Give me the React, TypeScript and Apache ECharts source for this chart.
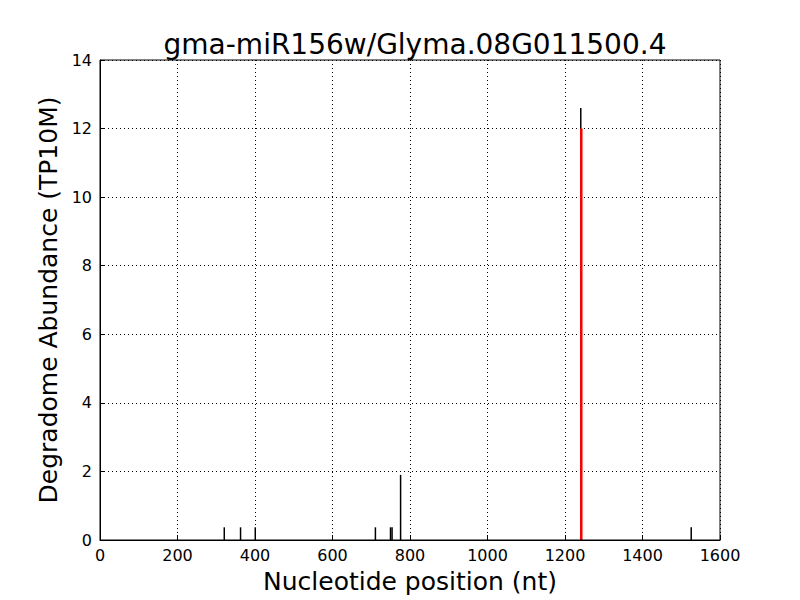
import React, { useEffect, useRef } from "react";
import * as echarts from "echarts";

const titleText = "gma-miR156w/Glyma.08G011500.4";
const xLabel = "Nucleotide position (nt)";
const yLabel = "Degradome Abundance (TP10M)";
const positions = [322, 364, 402, 712, 751, 755, 777, 1242, 1527];
const abundances = [0.37, 0.37, 0.37, 0.37, 0.37, 0.37, 1.9, 12.6, 0.37];
const targetPositions = [1242];
const targetAbundances = [12.0];

export default function App() {
  const ref = useRef<HTMLDivElement>(null);
  useEffect(() => {
    if (!ref.current) return;
    const chart = echarts.init(ref.current, null, { renderer: "svg" });
    const font = "DejaVu Sans";
    chart.setOption({
      animation: false,
      backgroundColor: "#ffffff",
      title: {
        text: titleText,
        left: 410,
        textAlign: "center",
        top: 25,
        textStyle: { fontFamily: font, fontSize: 28, fontWeight: "normal", color: "#000" },
      },
      grid: { left: 100, right: 80, top: 60, bottom: 60, outerBoundsMode: "none", containLabel: false },
      xAxis: {
        type: "value",
        min: 0,
        max: 1600,
        interval: 200,
        name: xLabel,
        nameLocation: "middle",
        nameGap: 29,
        nameTextStyle: { fontFamily: font, fontSize: 25, color: "#000" },
        axisLine: { show: true, onZero: false, lineStyle: { color: "#000", width: 1 } },
        axisTick: { show: true, inside: true, length: 5, lineStyle: { color: "#000", width: 1 } },
        axisLabel: { fontFamily: font, fontSize: 16, color: "#000", margin: 7, formatter: (v: number) => String(v) },
        splitLine: { show: true, lineStyle: { color: "#000", type: [1, 3], width: 1 } },
      },
      yAxis: {
        type: "value",
        min: 0,
        max: 14,
        interval: 2,
        name: yLabel,
        nameLocation: "middle",
        nameGap: 36,
        nameTextStyle: { fontFamily: font, fontSize: 25, color: "#000" },
        axisLine: { show: true, onZero: false, lineStyle: { color: "#000", width: 1 } },
        axisTick: { show: true, inside: true, length: 5, lineStyle: { color: "#000", width: 1 } },
        axisLabel: { fontFamily: font, fontSize: 16, color: "#000", margin: 8, formatter: (v: number) => String(v) },
        splitLine: { show: true, lineStyle: { color: "#000", type: [1, 3], width: 1 } },
      },
      graphic: [
        {
          type: "rect",
          shape: { x: 100, y: 60, width: 620, height: 480 },
          style: { fill: "none", stroke: "#000", lineWidth: 1 },
          silent: true,
          z: 10,
        },
      ],
      series: [
        {
          type: "bar",
          data: positions.map((p, i) => [p, abundances[i]]),
          barWidth: 1.5,
          barGap: "-100%",
          itemStyle: { color: "#000" },
        },
        {
          type: "bar",
          data: targetPositions.map((p, i) => [p, targetAbundances[i]]),
          barWidth: 2.5,
          barGap: "-100%",
          itemStyle: { color: "#ff0000" },
          z: 3,
        },
      ],
    });
    return () => chart.dispose();
  }, []);
  return (
    <div
      ref={ref}
      style={{ position: "fixed", left: 0, top: 0, width: 800, height: 600 }}
    />
  );
}
